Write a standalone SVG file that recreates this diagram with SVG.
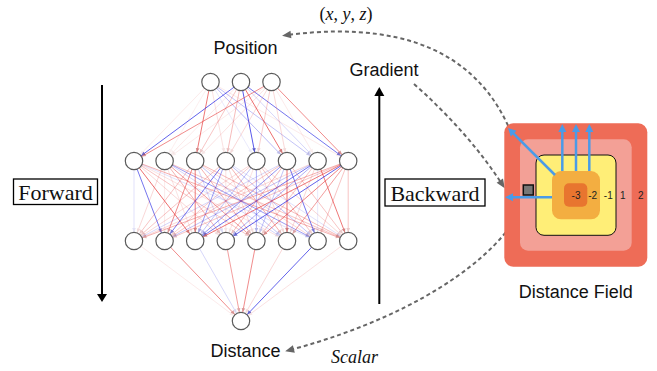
<svg xmlns="http://www.w3.org/2000/svg" width="657" height="371" viewBox="0 0 657 371">
<style>
.sans{font-family:"Liberation Sans",Arial,sans-serif;font-size:18px;fill:#111}
.ser{font-family:"Liberation Serif","Times New Roman",serif;fill:#111}
.r{stroke:#E84040;stroke-width:1;marker-end:url(#mr)}
.b{stroke:#3C3CE8;stroke-width:1;marker-end:url(#mb)}
.nd{fill:#fff;stroke:#5a5a5a;stroke-width:1.2}
.dash{fill:none;stroke:#666;stroke-width:2;stroke-dasharray:4 3;marker-end:url(#mg)}
.blu{stroke:#4A9BE8;stroke-width:2.5;marker-end:url(#mbl)}
.num{font-family:"Liberation Sans",Arial,sans-serif;font-size:10px;fill:#222;text-anchor:middle}
</style>
<defs>
<marker id="mr" markerUnits="userSpaceOnUse" refX="9" refY="0" markerWidth="10" markerHeight="10" orient="auto" overflow="visible"><path d="M0,0 L-4,-1.8 L-4,1.8 Z" fill="#C05050"/></marker>
<marker id="mb" markerUnits="userSpaceOnUse" refX="9" refY="0" markerWidth="10" markerHeight="10" orient="auto" overflow="visible"><path d="M0,0 L-4,-1.8 L-4,1.8 Z" fill="#4040C0"/></marker>
<marker id="mg" markerUnits="userSpaceOnUse" refX="0" refY="0" markerWidth="10" markerHeight="10" orient="auto" overflow="visible"><path d="M5,0 L-4,-3.8 L-4,3.8 Z" fill="#666"/></marker>
<marker id="mbl" markerUnits="userSpaceOnUse" refX="0" refY="0" markerWidth="10" markerHeight="10" orient="auto" overflow="visible"><path d="M4,0 L-4,-4 L-4,4 Z" fill="#4A9BE8"/></marker>
</defs>
<rect width="657" height="371" fill="#fff"/>

<g id="connectors">
<g id="edges-input-hidden1">
<line class="r" x1="210.5" y1="82" x2="134" y2="161" opacity=".1"/>
<line class="r" x1="210.5" y1="82" x2="164.6" y2="161" opacity=".08"/>
<line class="r" x1="210.5" y1="82" x2="195.2" y2="161" opacity=".7"/>
<line class="r" x1="210.5" y1="82" x2="225.8" y2="161" opacity=".15"/>
<line class="b" x1="210.5" y1="82" x2="256.4" y2="161" opacity=".1"/>
<line class="b" x1="210.5" y1="82" x2="287" y2="161" opacity=".35"/>
<line class="b" x1="210.5" y1="82" x2="317.6" y2="161" opacity=".3"/>
<line class="r" x1="210.5" y1="82" x2="348.2" y2="161" opacity=".1"/>
<line class="b" x1="241" y1="82" x2="134" y2="161" opacity=".8"/>
<line class="r" x1="241" y1="82" x2="164.6" y2="161" opacity=".1"/>
<line class="r" x1="241" y1="82" x2="195.2" y2="161" opacity=".3"/>
<line class="r" x1="241" y1="82" x2="225.8" y2="161" opacity=".35"/>
<line class="b" x1="241" y1="82" x2="256.4" y2="161" opacity=".85"/>
<line class="r" x1="241" y1="82" x2="287" y2="161" opacity=".75"/>
<line class="b" x1="241" y1="82" x2="317.6" y2="161" opacity=".2"/>
<line class="b" x1="241" y1="82" x2="348.2" y2="161" opacity=".7"/>
<line class="r" x1="271.5" y1="82" x2="134" y2="161" opacity=".6"/>
<line class="r" x1="271.5" y1="82" x2="164.6" y2="161" opacity=".1"/>
<line class="r" x1="271.5" y1="82" x2="195.2" y2="161" opacity=".15"/>
<line class="r" x1="271.5" y1="82" x2="225.8" y2="161" opacity=".2"/>
<line class="r" x1="271.5" y1="82" x2="256.4" y2="161" opacity=".25"/>
<line class="r" x1="271.5" y1="82" x2="287" y2="161" opacity=".2"/>
<line class="r" x1="271.5" y1="82" x2="317.6" y2="161" opacity=".1"/>
<line class="r" x1="271.5" y1="82" x2="348.2" y2="161" opacity=".6"/>
</g>
<g id="edges-hidden1-hidden2">
<line class="b" x1="134" y1="161" x2="134" y2="241" opacity=".15"/>
<line class="b" x1="134" y1="161" x2="164.6" y2="241" opacity=".7"/>
<line class="r" x1="134" y1="161" x2="195.2" y2="241" opacity=".75"/>
<line class="r" x1="134" y1="161" x2="225.8" y2="241" opacity=".2"/>
<line class="r" x1="134" y1="161" x2="256.4" y2="241" opacity=".3"/>
<line class="r" x1="134" y1="161" x2="287" y2="241" opacity=".15"/>
<line class="b" x1="134" y1="161" x2="317.6" y2="241" opacity=".15"/>
<line class="r" x1="134" y1="161" x2="348.2" y2="241" opacity=".4"/>
<line class="r" x1="164.6" y1="161" x2="134" y2="241" opacity=".2"/>
<line class="r" x1="164.6" y1="161" x2="164.6" y2="241" opacity=".1"/>
<line class="r" x1="164.6" y1="161" x2="195.2" y2="241" opacity=".15"/>
<line class="r" x1="164.6" y1="161" x2="225.8" y2="241" opacity=".4"/>
<line class="r" x1="164.6" y1="161" x2="256.4" y2="241" opacity=".5"/>
<line class="b" x1="164.6" y1="161" x2="287" y2="241" opacity=".2"/>
<line class="b" x1="164.6" y1="161" x2="317.6" y2="241" opacity=".5"/>
<line class="r" x1="164.6" y1="161" x2="348.2" y2="241" opacity=".3"/>
<line class="r" x1="195.2" y1="161" x2="134" y2="241" opacity=".3"/>
<line class="r" x1="195.2" y1="161" x2="164.6" y2="241" opacity=".6"/>
<line class="r" x1="195.2" y1="161" x2="195.2" y2="241" opacity=".7"/>
<line class="b" x1="195.2" y1="161" x2="225.8" y2="241" opacity=".2"/>
<line class="r" x1="195.2" y1="161" x2="256.4" y2="241" opacity=".4"/>
<line class="b" x1="195.2" y1="161" x2="287" y2="241" opacity=".3"/>
<line class="r" x1="195.2" y1="161" x2="317.6" y2="241" opacity=".2"/>
<line class="r" x1="195.2" y1="161" x2="348.2" y2="241" opacity=".35"/>
<line class="r" x1="225.8" y1="161" x2="134" y2="241" opacity=".3"/>
<line class="b" x1="225.8" y1="161" x2="164.6" y2="241" opacity=".7"/>
<line class="b" x1="225.8" y1="161" x2="195.2" y2="241" opacity=".5"/>
<line class="r" x1="225.8" y1="161" x2="225.8" y2="241" opacity=".15"/>
<line class="r" x1="225.8" y1="161" x2="256.4" y2="241" opacity=".2"/>
<line class="r" x1="225.8" y1="161" x2="287" y2="241" opacity=".4"/>
<line class="b" x1="225.8" y1="161" x2="317.6" y2="241" opacity=".3"/>
<line class="b" x1="225.8" y1="161" x2="348.2" y2="241" opacity=".15"/>
<line class="r" x1="256.4" y1="161" x2="134" y2="241" opacity=".2"/>
<line class="r" x1="256.4" y1="161" x2="164.6" y2="241" opacity=".25"/>
<line class="b" x1="256.4" y1="161" x2="195.2" y2="241" opacity=".3"/>
<line class="r" x1="256.4" y1="161" x2="225.8" y2="241" opacity=".15"/>
<line class="b" x1="256.4" y1="161" x2="256.4" y2="241" opacity=".4"/>
<line class="r" x1="256.4" y1="161" x2="287" y2="241" opacity=".2"/>
<line class="r" x1="256.4" y1="161" x2="317.6" y2="241" opacity=".3"/>
<line class="r" x1="256.4" y1="161" x2="348.2" y2="241" opacity=".2"/>
<line class="b" x1="287" y1="161" x2="134" y2="241" opacity=".2"/>
<line class="r" x1="287" y1="161" x2="164.6" y2="241" opacity=".3"/>
<line class="b" x1="287" y1="161" x2="195.2" y2="241" opacity=".55"/>
<line class="r" x1="287" y1="161" x2="225.8" y2="241" opacity=".35"/>
<line class="b" x1="287" y1="161" x2="256.4" y2="241" opacity=".3"/>
<line class="r" x1="287" y1="161" x2="287" y2="241" opacity=".75"/>
<line class="b" x1="287" y1="161" x2="317.6" y2="241" opacity=".7"/>
<line class="r" x1="287" y1="161" x2="348.2" y2="241" opacity=".3"/>
<line class="r" x1="317.6" y1="161" x2="134" y2="241" opacity=".2"/>
<line class="b" x1="317.6" y1="161" x2="164.6" y2="241" opacity=".3"/>
<line class="b" x1="317.6" y1="161" x2="195.2" y2="241" opacity=".7"/>
<line class="b" x1="317.6" y1="161" x2="225.8" y2="241" opacity=".4"/>
<line class="r" x1="317.6" y1="161" x2="256.4" y2="241" opacity=".3"/>
<line class="r" x1="317.6" y1="161" x2="287" y2="241" opacity=".2"/>
<line class="b" x1="317.6" y1="161" x2="317.6" y2="241" opacity=".1"/>
<line class="r" x1="317.6" y1="161" x2="348.2" y2="241" opacity=".7"/>
<line class="r" x1="348.2" y1="161" x2="134" y2="241" opacity=".4"/>
<line class="r" x1="348.2" y1="161" x2="164.6" y2="241" opacity=".3"/>
<line class="r" x1="348.2" y1="161" x2="195.2" y2="241" opacity=".7"/>
<line class="b" x1="348.2" y1="161" x2="225.8" y2="241" opacity=".8"/>
<line class="r" x1="348.2" y1="161" x2="256.4" y2="241" opacity=".65"/>
<line class="r" x1="348.2" y1="161" x2="287" y2="241" opacity=".5"/>
<line class="r" x1="348.2" y1="161" x2="317.6" y2="241" opacity=".3"/>
<line class="r" x1="348.2" y1="161" x2="348.2" y2="241" opacity=".3"/>
</g>
<g id="edges-hidden2-output">
<line class="r" x1="134" y1="241" x2="241" y2="321" opacity=".1"/>
<line class="r" x1="164.6" y1="241" x2="241" y2="321" opacity=".6"/>
<line class="b" x1="195.2" y1="241" x2="241" y2="321" opacity=".2"/>
<line class="r" x1="225.8" y1="241" x2="241" y2="321" opacity=".5"/>
<line class="r" x1="256.4" y1="241" x2="241" y2="321" opacity=".6"/>
<line class="r" x1="287" y1="241" x2="241" y2="321" opacity=".2"/>
<line class="b" x1="317.6" y1="241" x2="241" y2="321" opacity=".8"/>
<line class="r" x1="348.2" y1="241" x2="241" y2="321" opacity=".15"/>
</g>
<g id="dashed-links">
<path class="dash" d="M526,186 C505,62 420,18 287,35"/>
<path class="dash" d="M414,84 Q468,132 502,184"/>
<path class="dash" d="M526,196 C512,245 432,312 290,350"/>
</g>
</g>

<g id="nodes">
<g id="in0"><circle class="nd" cx="210.5" cy="82" r="8.7"/></g>
<g id="in1"><circle class="nd" cx="241" cy="82" r="8.7"/></g>
<g id="in2"><circle class="nd" cx="271.5" cy="82" r="8.7"/></g>
<g id="h1_0"><circle class="nd" cx="134" cy="161" r="8.7"/></g>
<g id="h1_1"><circle class="nd" cx="164.6" cy="161" r="8.7"/></g>
<g id="h1_2"><circle class="nd" cx="195.2" cy="161" r="8.7"/></g>
<g id="h1_3"><circle class="nd" cx="225.8" cy="161" r="8.7"/></g>
<g id="h1_4"><circle class="nd" cx="256.4" cy="161" r="8.7"/></g>
<g id="h1_5"><circle class="nd" cx="287" cy="161" r="8.7"/></g>
<g id="h1_6"><circle class="nd" cx="317.6" cy="161" r="8.7"/></g>
<g id="h1_7"><circle class="nd" cx="348.2" cy="161" r="8.7"/></g>
<g id="h2_0"><circle class="nd" cx="134" cy="241" r="8.7"/></g>
<g id="h2_1"><circle class="nd" cx="164.6" cy="241" r="8.7"/></g>
<g id="h2_2"><circle class="nd" cx="195.2" cy="241" r="8.7"/></g>
<g id="h2_3"><circle class="nd" cx="225.8" cy="241" r="8.7"/></g>
<g id="h2_4"><circle class="nd" cx="256.4" cy="241" r="8.7"/></g>
<g id="h2_5"><circle class="nd" cx="287" cy="241" r="8.7"/></g>
<g id="h2_6"><circle class="nd" cx="317.6" cy="241" r="8.7"/></g>
<g id="h2_7"><circle class="nd" cx="348.2" cy="241" r="8.7"/></g>
<g id="out"><circle class="nd" cx="241" cy="321" r="8.7"/></g>
</g>

<g id="labels">
<text class="sans" x="245.5" y="54" text-anchor="middle">Position</text>
<text class="sans" x="245.5" y="357" text-anchor="middle">Distance</text>
<text class="sans" x="384" y="76" text-anchor="middle">Gradient</text>
<text class="ser" x="346" y="19.5" text-anchor="middle" font-size="18">(<tspan font-style="italic">x</tspan>, <tspan font-style="italic">y</tspan>, <tspan font-style="italic">z</tspan>)</text>
<text class="ser" x="354.5" y="362.5" text-anchor="middle" font-size="18" font-style="italic">Scalar</text>
</g>

<g id="forward">
<line x1="102" y1="85" x2="102" y2="295" stroke="#000" stroke-width="2"/>
<polygon points="97,294 107,294 102,302" fill="#000"/>
<rect x="13.5" y="179" width="84" height="25.5" fill="#fff" stroke="#000" stroke-width="1.3"/>
<text class="ser" x="55.5" y="200" text-anchor="middle" font-size="22">Forward</text>
</g>

<g id="backward">
<line x1="379.3" y1="95" x2="379.3" y2="304" stroke="#000" stroke-width="2"/>
<polygon points="374.3,96 384.3,96 379.3,87" fill="#000"/>
<rect x="385" y="179" width="100" height="27" fill="#fff" stroke="#000" stroke-width="1.3"/>
<text class="ser" x="435" y="201" text-anchor="middle" font-size="22">Backward</text>
</g>

<g id="distance-field">
<rect x="504.3" y="123.3" width="143" height="143.4" rx="9" fill="#EE6C57"/>
<rect x="520" y="139.3" width="111.7" height="111.4" rx="8" fill="#F3A096"/>
<rect x="536" y="155" width="80" height="80.3" rx="8" fill="#FFEE77" stroke="#111" stroke-width="1"/>
<rect x="552" y="171" width="48" height="48.3" rx="9" fill="#F3AE41"/>
<rect x="564" y="183.3" width="23.3" height="23.4" rx="5" fill="#E8752F"/>
<text class="num" x="576" y="198.8">-3</text>
<text class="num" x="592.7" y="198.8">-2</text>
<text class="num" x="608.3" y="198.8">-1</text>
<text class="num" x="622.7" y="198.8">1</text>
<text class="num" x="640.7" y="198.8">2</text>
<line class="blu" x1="562.3" y1="171" x2="562.3" y2="128"/>
<line class="blu" x1="576" y1="171" x2="576" y2="128"/>
<line class="blu" x1="589.3" y1="171" x2="589.3" y2="128"/>
<line class="blu" x1="555" y1="175" x2="510.8" y2="130.8"/>
<line class="blu" x1="552" y1="197.3" x2="509" y2="197.3"/>
<rect x="523.3" y="185" width="10" height="10" fill="#777" stroke="#111" stroke-width="1.5"/>
<text class="sans" x="575.8" y="298" text-anchor="middle">Distance Field</text>
</g>
</svg>
